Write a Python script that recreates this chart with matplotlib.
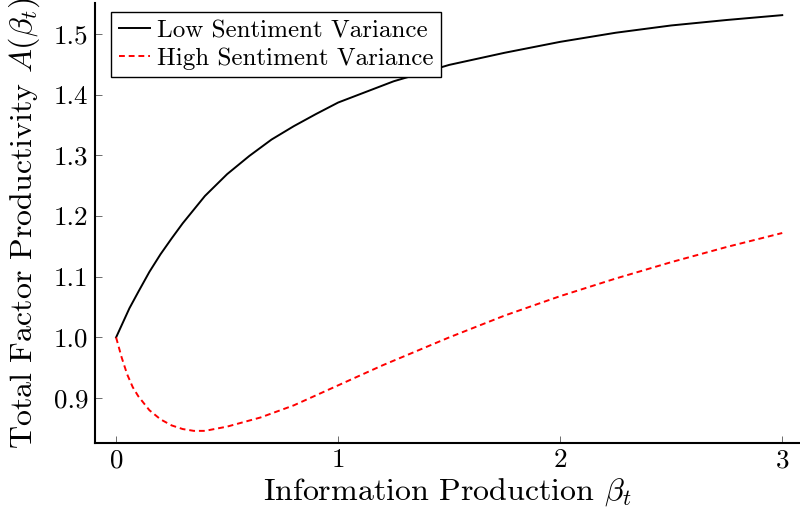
import numpy as np
import matplotlib
matplotlib.use("Agg")
import matplotlib.pyplot as plt

# values
beta_low = [0.0, 0.06, 0.1, 0.15, 0.2, 0.25, 0.3, 0.4, 0.5, 0.6, 0.7, 0.8, 0.9, 1.0,
            1.25, 1.5, 1.75, 2.0, 2.25, 2.5, 2.75, 3.0]
tfp_low = [1.0, 1.048, 1.075, 1.108, 1.137, 1.163, 1.188, 1.233, 1.269, 1.299, 1.326,
           1.348, 1.368, 1.387, 1.422, 1.449, 1.469, 1.487, 1.502, 1.514, 1.523, 1.531]

beta_high = [0.0, 0.025, 0.05, 0.075, 0.1, 0.15, 0.2, 0.25, 0.3, 0.35, 0.4, 0.5, 0.65,
             0.8, 1.0, 1.2, 1.5, 1.75, 2.0, 2.25, 2.5, 2.75, 3.0]
tfp_high = [1.0, 0.967, 0.939, 0.918, 0.903, 0.880, 0.865, 0.855, 0.849, 0.846, 0.846,
            0.853, 0.868, 0.888, 0.921, 0.954, 1.0, 1.036, 1.068, 1.097, 1.124, 1.149,
            1.172]

plt.rcParams['font.family'] = 'serif'
plt.rcParams['font.serif'] = ['cmr10']
plt.rcParams['mathtext.fontset'] = 'cm'
plt.rcParams['axes.formatter.use_mathtext'] = True

fig = plt.figure(figsize=(8, 5.15), dpi=100)
ax = fig.add_axes([95 / 800, 72 / 515, 705 / 800, 440 / 515])

ax.plot(beta_low, tfp_low, color='black', lw=1.4, label='Low Sentiment Variance')
ax.plot(beta_high, tfp_high, color='red', lw=1.4, linestyle=(0, (3, 2)),
        label='High Sentiment Variance')

ax.set_xlim(-0.095, 3.08)
ax.set_ylim(0.826, 1.551)
ax.set_xticks([0, 1, 2, 3])
ax.set_yticks([0.9, 1.0, 1.1, 1.2, 1.3, 1.4, 1.5])
ax.set_yticklabels(['0.9', '1.0', '1.1', '1.2', '1.3', '1.4', '1.5'])

ax.spines['top'].set_visible(False)
ax.spines['right'].set_visible(False)
ax.spines['left'].set_linewidth(1.5)
ax.spines['bottom'].set_linewidth(1.5)
ax.tick_params(direction='in', length=5, width=0.6, color='#555555', labelsize=19.5)
ax.tick_params(axis='x', pad=4)
ax.tick_params(axis='y', pad=5)

ax.set_xlabel(r'Information Production $\beta_t$', fontsize=23, labelpad=3)
ax.set_ylabel(r'Total Factor Productivity $A(\beta_t)$', fontsize=23, labelpad=8)

leg = ax.legend(loc='upper left', fontsize=18, fancybox=False, framealpha=1,
                edgecolor='black', handlelength=1.25, borderpad=0.3,
                labelspacing=0.2, handletextpad=0.3, borderaxespad=0,
                bbox_to_anchor=(0.0227, 0.9795))
leg.get_frame().set_linewidth(1.0)

fig.savefig('out.png', dpi=100)
